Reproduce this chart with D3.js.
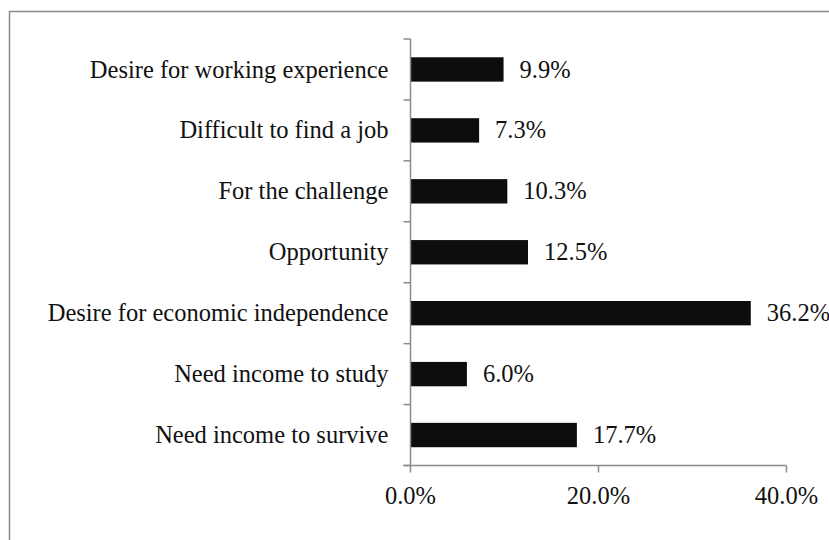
<!DOCTYPE html>
<html>
<head>
<meta charset="utf-8">
<script src="https://cdn.jsdelivr.net/npm/d3@7"></script>
<style>
  html, body { margin: 0; padding: 0; background: #fff; }
  svg { display: block; }
  text { font-family: "Liberation Serif", "DejaVu Serif", serif; fill: #111; }
</style>
</head>
<body>
<svg id="chart" width="829" height="540"></svg>
<script>
const categories = [
  "Desire for working experience",
  "Difficult to find a job",
  "For the challenge",
  "Opportunity",
  "Desire for economic independence",
  "Need income to study",
  "Need income to survive"
];
const values = [9.9, 7.3, 10.3, 12.5, 36.2, 6.0, 17.7];
const xTicks = [0, 20, 40];

(function () {
const svg = d3.select("#chart");
const W = 829, H = 540;
const fontSize = 24.5;

// outer frame (cropped on right and bottom)
svg.append("rect")
  .attr("x", 9.5).attr("y", 11.5)
  .attr("width", W + 20).attr("height", H + 20)
  .attr("fill", "none").attr("stroke", "#8a8a8a").attr("stroke-width", 1.5);

const plotLeft = 410.5, plotTop = 39, plotBottom = 465.5;
const x = d3.scaleLinear().domain([0, 40]).range([plotLeft, 786.5]);
const y = d3.scaleBand().domain(categories).range([plotTop, plotBottom])
  .paddingInner(0.6).paddingOuter(0.3);

const axisColor = "#8a8a8a";

// bars
svg.append("g").selectAll("rect").data(values).join("rect")
  .attr("x", x(0))
  .attr("y", (d, i) => y(categories[i]))
  .attr("width", d => x(d) - x(0))
  .attr("height", y.bandwidth())
  .attr("fill", "#0d0d0d");

// y axis line + ticks at band boundaries
const gy = svg.append("g");
gy.append("line").attr("x1", plotLeft).attr("x2", plotLeft).attr("y1", plotTop).attr("y2", plotBottom)
  .attr("stroke", axisColor).attr("stroke-width", 1.5);
const step = (plotBottom - plotTop) / categories.length;
const boundaries = d3.range(categories.length + 1).map(i => plotTop + i * step);
gy.selectAll("line.tick").data(boundaries).join("line").attr("class", "tick")
  .attr("x1", plotLeft - 7).attr("x2", plotLeft)
  .attr("y1", d => d).attr("y2", d => d)
  .attr("stroke", axisColor).attr("stroke-width", 1.5);

// category labels
svg.append("g").selectAll("text").data(categories).join("text")
  .attr("x", plotLeft - 22)
  .attr("y", d => y(d) + y.bandwidth() / 2)
  .attr("dy", "0.33em")
  .attr("text-anchor", "end")
  .attr("font-size", fontSize)
  .text(d => d);

// x axis
const gx = svg.append("g");
gx.append("line").attr("x1", plotLeft - 7).attr("x2", x(40)).attr("y1", plotBottom).attr("y2", plotBottom)
  .attr("stroke", axisColor).attr("stroke-width", 1.5);
gx.selectAll("line.tick").data(xTicks).join("line").attr("class", "tick")
  .attr("x1", d => x(d)).attr("x2", d => x(d))
  .attr("y1", plotBottom).attr("y2", plotBottom + 7)
  .attr("stroke", axisColor).attr("stroke-width", 1.5);
gx.selectAll("text").data(xTicks).join("text")
  .attr("x", d => x(d))
  .attr("y", 504)
  .attr("text-anchor", "middle")
  .attr("font-size", fontSize)
  .text(d => d.toFixed(1) + "%");

// value labels
svg.append("g").selectAll("text").data(values).join("text")
  .attr("x", d => x(d) + 16)
  .attr("y", (d, i) => y(categories[i]) + y.bandwidth() / 2)
  .attr("dy", "0.33em")
  .attr("font-size", fontSize)
  .text(d => d.toFixed(1) + "%");
})();
</script>
</body>
</html>
